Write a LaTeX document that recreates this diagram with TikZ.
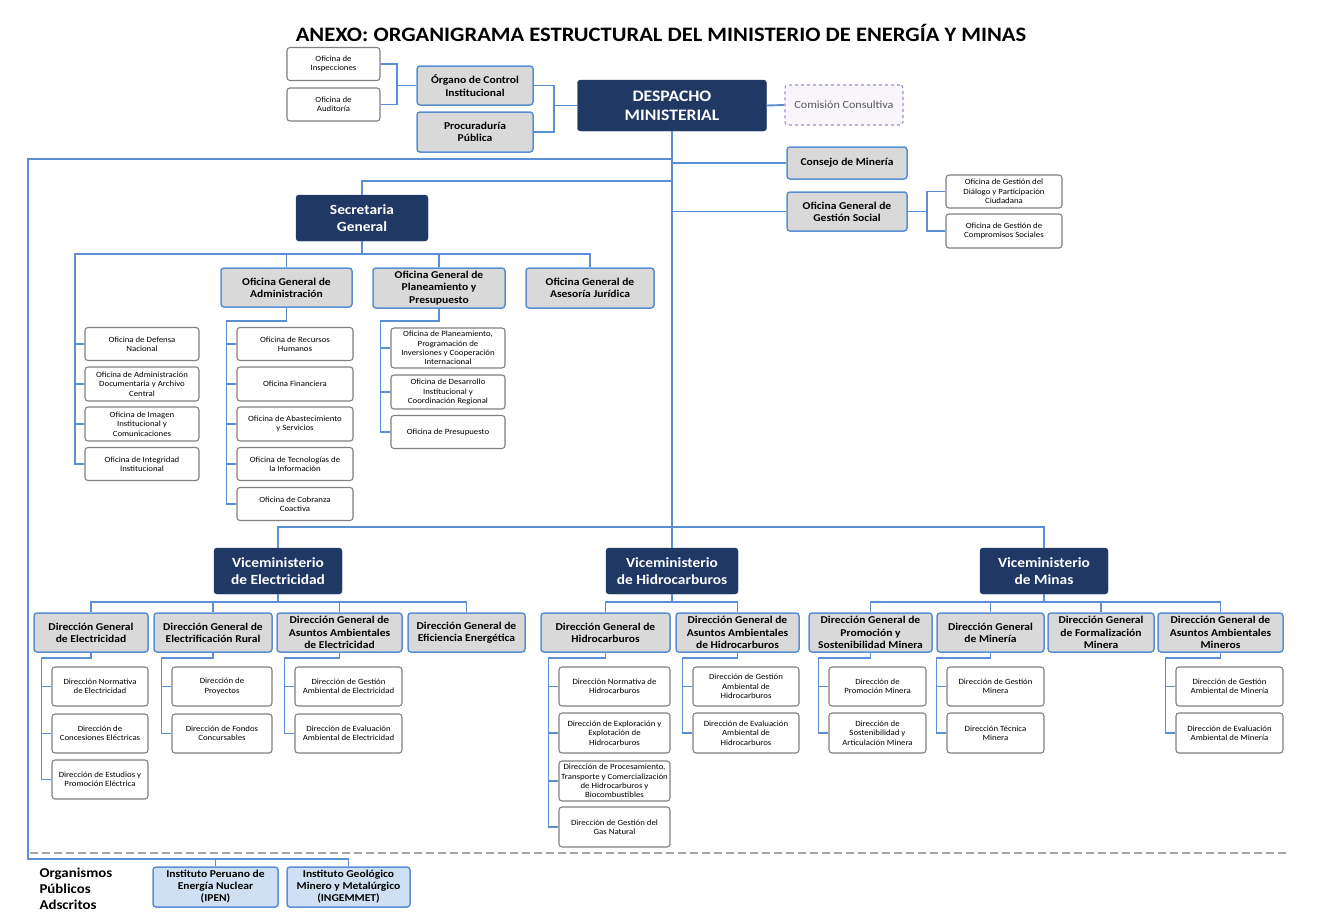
\documentclass[tikz,border=0pt]{standalone}
\usepackage{fontspec}
\setmainfont{Carlito}[FakeStretch=1.1]
\usepackage{tikz}
\usepackage{xcolor}
\usetikzlibrary{positioning}

\definecolor{navy}{HTML}{1F3864}
\definecolor{linea}{HTML}{5B8FD4}
\definecolor{gris}{HTML}{D9D9D9}
\definecolor{borde}{HTML}{808080}
\definecolor{celeste}{HTML}{CFDFF4}
\definecolor{lila}{HTML}{A68BC9}

\begin{document}
\begin{tikzpicture}[x=1pt, y=-1pt, node distance=40pt, on grid,
  base/.style={rectangle, rounded corners=3pt, align=center, inner sep=1pt},
  jefe/.style={base, fill=navy, draw=navy, text=white, font=\bfseries\fontsize{14}{17}\selectfont},
  organo/.style={base, fill=gris, draw=linea, line width=1.5pt, font=\bfseries\fontsize{10.5}{12.3}\selectfont},
  oficina/.style={base, fill=white, draw=borde, line width=1.1pt, font=\fontsize{8}{9.3}\selectfont},
  adscrito/.style={base, fill=celeste, draw=linea, line width=1.5pt, font=\bfseries\fontsize{10.5}{12}\selectfont},
  sz/.style 2 args={minimum width=#1pt, minimum height=#2pt},
  link/.style={draw=linea, line width=1.9pt}]

\useasboundingbox (0,0) rectangle (1318,918);

\node[font=\bfseries\fontsize{20.5}{24}\selectfont] (titulo) at (661,33) {ANEXO: ORGANIGRAMA ESTRUCTURAL DEL MINISTERIO DE ENERGÍA Y MINAS};

% alta direccion
\node[jefe, sz={189}{51}, font=\bfseries\fontsize{16}{19}\selectfont] (despacho) at (672,105.5) {DESPACHO\\MINISTERIAL};
\node[organo, sz={116}{39}] (oci) at (475,85.5) {Órgano de Control\\Institucional};
\node[organo, sz={116}{40}, below=46.5pt of oci] (procu) {Procuraduría\\Pública};
\node[oficina, sz={93}{33}] (insp) at (333.5,64) {Oficina de\\Inspecciones};
\node[oficina, sz={93}{33}, below=40.5pt of insp] (audit) {Oficina de\\Auditoría};
\node[base, sz={118}{40}, draw=lila, dashed, fill=lila!8, text=black!65, line width=1.1pt, font=\fontsize{11}{13}\selectfont] (comision) at (844,105) {Comisión Consultiva};
\node[organo, sz={120}{32}] (consejo) at (847,163) {Consejo de Minería};
\node[organo, sz={120}{39}, below=48.5pt of consejo] (ogs) {Oficina General de\\Gestión Social};
\node[oficina, sz={116}{33}] (dialogo) at (1004,191.5) {Oficina de Gestión del\\Diálogo y Participación\\Ciudadana};
\node[oficina, sz={116}{34}, below=39.5pt of dialogo] (compromisos) {Oficina de Gestión de\\Compromisos Sociales};

% secretaria general
\node[jefe, sz={132}{46}] (sg) at (362,218) {Secretaria\\General};
\node[organo, sz={131}{39}] (oga) at (286.5,287.5) {Oficina General de\\Administración};
\node[organo, sz={132}{40}] (ogpp) at (439,288) {Oficina General de\\Planeamiento y\\Presupuesto};
\node[organo, sz={128}{40}] (ogaj) at (590,288) {Oficina General de\\Asesoría Jurídica};
\node[oficina, sz={114}{33}] (defensa) at (142,344) {Oficina de Defensa\\Nacional};
\node[oficina, sz={114}{34}, below=of defensa] (archivo) {Oficina de Administración\\Documentaria y Archivo\\Central};
\node[oficina, sz={114}{34}, below=of archivo] (imagen) {Oficina de Imagen\\Institucional y\\Comunicaciones};
\node[oficina, sz={114}{33}, below=of imagen] (integridad) {Oficina de Integridad\\Institucional};
\node[oficina, sz={116}{33}] (rrhh) at (295,344) {Oficina de Recursos\\Humanos};
\node[oficina, sz={116}{34}, below=of rrhh] (financiera) {Oficina Financiera};
\node[oficina, sz={116}{34}, below=of financiera] (abastecimiento) {Oficina de Abastecimiento\\y Servicios};
\node[oficina, sz={116}{33}, below=of abastecimiento] (tecnologias) {Oficina de Tecnologías de\\la Información};
\node[oficina, sz={116}{33}, below=of tecnologias] (cobranza) {Oficina de Cobranza\\Coactiva};
\node[oficina, sz={114}{40}] (planeam) at (448,348) {Oficina de Planeamiento,\\Programación de\\Inversiones y Cooperación\\Internacional};
\node[oficina, sz={114}{34}, below=44pt of planeam] (desarrollo) {Oficina de Desarrollo\\Institucional y\\Coordinación Regional};
\node[oficina, sz={114}{33}, below=of desarrollo] (presupuesto) {Oficina de Presupuesto};

% viceministerios
\node[jefe, sz={128}{46}] (vme) at (278,571) {Viceministerio\\de Electricidad};
\node[jefe, sz={132}{46}] (vmh) at (672,571) {Viceministerio\\de Hidrocarburos};
\node[jefe, sz={128}{46}] (vmm) at (1044,571) {Viceministerio\\de Minas};

\node[organo, sz={114}{39}] (dge) at (91,632.5) {Dirección General\\de Electricidad};
\node[organo, sz={118}{39}] (dger) at (213,632.5) {Dirección General de\\Electrificación Rural};
\node[organo, sz={125}{39}] (dgaae) at (339.5,632.5) {Dirección General de\\Asuntos Ambientales\\de Electricidad};
\node[organo, sz={117}{39}] (dgee) at (466.5,632.5) {Dirección General de\\Eficiencia Energética};
\node[organo, sz={129}{39}] (dgh) at (605.5,632.5) {Dirección General de\\Hidrocarburos};
\node[organo, sz={123}{39}] (dgaah) at (737.5,632.5) {Dirección General de\\Asuntos Ambientales\\de Hidrocarburos};
\node[organo, sz={123}{39}] (dgpsm) at (870.5,632.5) {Dirección General de\\Promoción y\\Sostenibilidad Minera};
\node[organo, sz={107}{39}] (dgm) at (990.5,632.5) {Dirección General\\de Minería};
\node[organo, sz={106}{39}] (dgfm) at (1101,632.5) {Dirección General\\de Formalización\\Minera};
\node[organo, sz={125}{39}] (dgaam) at (1220.5,632.5) {Dirección General de\\Asuntos Ambientales\\Mineros};

\node[oficina, sz={96}{39}] (normelec) at (100,686.5) {Dirección Normativa\\de Electricidad};
\node[oficina, sz={96}{39}, below=47pt of normelec] (concesiones) {Dirección de\\Concesiones Eléctricas};
\node[oficina, sz={96}{39}, below=46pt of concesiones] (estudios) {Dirección de Estudios y\\Promoción Eléctrica};
\node[oficina, sz={100}{39}] (proyectos) at (222,686.5) {Dirección de\\Proyectos};
\node[oficina, sz={100}{39}, below=47pt of proyectos] (fondos) {Dirección de Fondos\\Concursables};
\node[oficina, sz={107}{39}] (gestelec) at (348.5,686.5) {Dirección de Gestión\\Ambiental de Electricidad};
\node[oficina, sz={107}{39}, below=47pt of gestelec] (evalelec) {Dirección de Evaluación\\Ambiental de Electricidad};

\node[oficina, sz={111}{39}] (normhid) at (614.5,686.5) {Dirección Normativa de\\Hidrocarburos};
\node[oficina, sz={111}{40}, below=46.5pt of normhid] (exploracion) {Dirección de Exploración y\\Explotación de\\Hidrocarburos};
\node[oficina, sz={111}{40}, below=48pt of exploracion] (procesamiento) {Dirección de Procesamiento,\\Transporte y Comercialización\\de Hidrocarburos y\\Biocombustibles};
\node[oficina, sz={111}{40}, below=46pt of procesamiento] (gasnatural) {Dirección de Gestión del\\Gas Natural};
\node[oficina, sz={106}{39}] (gesthid) at (746,686.5) {Dirección de Gestión\\Ambiental de\\Hidrocarburos};
\node[oficina, sz={106}{40}, below=46.5pt of gesthid] (evalhid) {Dirección de Evaluación\\Ambiental de\\Hidrocarburos};

\node[oficina, sz={97}{39}] (promin) at (877.5,686.5) {Dirección de\\Promoción Minera};
\node[oficina, sz={97}{40}, below=46.5pt of promin] (sostmin) {Dirección de\\Sostenibilidad y\\Articulación Minera};
\node[oficina, sz={97}{39}] (gestmin) at (995.5,686.5) {Dirección de Gestión\\Minera};
\node[oficina, sz={97}{40}, below=46.5pt of gestmin] (tecmin) {Dirección Técnica\\Minera};
\node[oficina, sz={107}{39}] (gestambmin) at (1229.5,686.5) {Dirección de Gestión\\Ambiental de Minería};
\node[oficina, sz={107}{40}, below=46.5pt of gestambmin] (evalambmin) {Dirección de Evaluación\\Ambiental de Minería};

% organismos adscritos
\node[anchor=west, align=left, font=\bfseries\fontsize{13.5}{16}\selectfont] (opa) at (36,889) {Organismos\\Públicos\\Adscritos};
\node[adscrito, sz={125}{40}] (ipen) at (215.5,887) {Instituto Peruano de\\Energía Nuclear\\(IPEN)};
\node[adscrito, sz={123}{40}, right=133pt of ipen] (ingemmet) {Instituto Geológico\\Minero y Metalúrgico\\(INGEMMET)};

% conectores
\draw[link] (oci.west) -- ++(-19,0) coordinate (ocij);
\draw[link] (insp.east) -| (ocij);
\draw[link] (audit.east) -| (ocij);
\draw[link] (despacho.west) -- ++(-23,0) coordinate (despj);
\draw[link] (oci.east) -| (despj);
\draw[link] (procu.east) -| (despj);
\draw[link] (despacho.east) -- (comision.west);
\draw[link] (despacho.south) -- (vmh.north);
\draw[link] (consejo.west) -- (consejo.west -| despacho.south);
\draw[link] (ogs.west) -- (ogs.west -| despacho.south);
\draw[link] (ogs.east) -- ++(19,0) coordinate (ogsj);
\draw[link] (dialogo.west) -| (ogsj);
\draw[link] (compromisos.west) -| (ogsj);

\coordinate (sgj) at (672,181);
\coordinate (ext) at (28,159);
\coordinate (adsj) at (28,859);
\draw[link] (sg.north) |- (sgj);
\draw[link] (despacho.south |- ext) -- (ext) -- (adsj) -| (ingemmet.north);
\draw[link] (ipen.north) -- (ipen.north |- adsj);
\draw[black!35, line width=1.8pt, dash pattern=on 8pt off 4pt] (30,853) -- (1290,853);

\coordinate (sgl) at (75,254);
\draw[link] (sg.south) |- (sgl) |- (integridad.west);
\foreach \n in {defensa, archivo, imagen} \draw[link] (\n.west) -- (\n.west -| sgl);
\draw[link] (sgl) -| (ogaj.north);
\foreach \n in {oga, ogpp} \draw[link] (\n.north) -- (\n.north |- sgl);

\draw[link] (vme.north) -- ++(0,-21) -| (vmm.north);
\foreach \v/\a/\b/\m in {vme/dge/dgee/{dger,dgaae}, vmh/dgh/dgaah/{}, vmm/dgpsm/dgaam/{dgm,dgfm}} {
  \draw[link] (\v.south) -- ++(0,9);
  \draw[link] (\a.north) -- ++(0,-10) -| (\b.north);
  \foreach \n in \m \draw[link] (\n.north) -- ++(0,-10);
}

% dependencias
\foreach \p/\u/\r/\d in {oga/cobranza/{rrhh,financiera,abastecimiento,tecnologias}/13,
    ogpp/presupuesto/{planeam,desarrollo}/12,
    dge/estudios/{normelec,concesiones}/5, dger/fondos/{proyectos}/5,
    dgaae/evalelec/{gestelec}/5, dgh/gasnatural/{normhid,exploracion,procesamiento}/5,
    dgaah/evalhid/{gesthid}/5, dgpsm/sostmin/{promin}/5,
    dgm/tecmin/{gestmin}/5, dgaam/evalambmin/{gestambmin}/5} {
  \draw[link] (\p.south) -- ++(0,\d) -| ([xshift=-10pt]\u.west) -- (\u.west);
  \foreach \n in \r \draw[link] (\n.west) -- ++(-10,0);
}

\end{tikzpicture}
\end{document}
